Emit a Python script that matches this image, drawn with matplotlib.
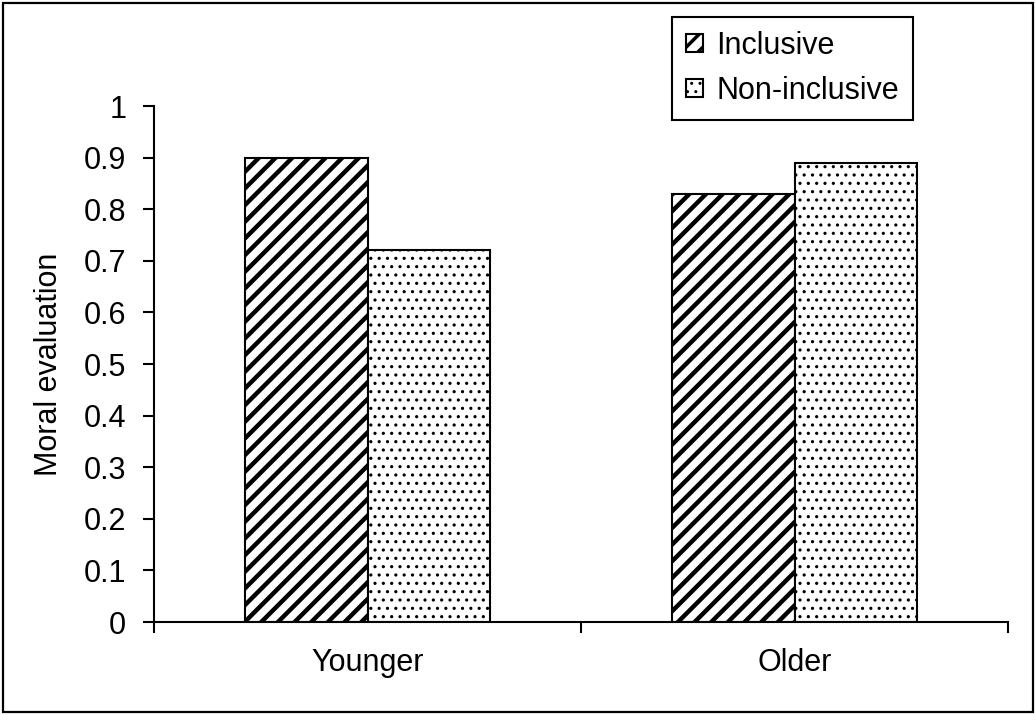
import matplotlib
matplotlib.use("Agg")
import matplotlib.pyplot as plt
from matplotlib.patches import Rectangle
import numpy as np

categories = ["Younger", "Older"]
inclusive = [0.90, 0.83]
non_inclusive = [0.72, 0.89]
series_names = ["Inclusive", "Non-inclusive"]
yticks = [0, 0.1, 0.2, 0.3, 0.4, 0.5, 0.6, 0.7, 0.8, 0.9, 1]
ytick_labels = ["0", "0.1", "0.2", "0.3", "0.4", "0.5", "0.6", "0.7", "0.8", "0.9", "1"]

plt.rcParams["font.family"] = ["Liberation Sans", "DejaVu Sans"]
plt.rcParams["hatch.color"] = "black"
FS = 22

fig = plt.figure(figsize=(10.36, 7.15), dpi=100)
ax = fig.add_axes([154 / 1036, 1 - 622 / 715, (1008 - 154) / 1036, (622 - 106) / 715])

x = np.arange(len(categories)) + 0.5
w = 0.287
with plt.rc_context({"hatch.linewidth": 3.2}):
    b1 = ax.bar(x - w / 2, inclusive, w, facecolor="white", edgecolor="black",
                linewidth=1.5, hatch="//", label=series_names[0])
with plt.rc_context({"hatch.linewidth": 1.1}):
    b2 = ax.bar(x + w / 2, non_inclusive, w, facecolor="white", edgecolor="black",
                linewidth=1.5, hatch="..", label=series_names[1])
for p in b1:
    if hasattr(p, "set_hatch_linewidth"):
        p.set_hatch_linewidth(3.2)
for p in b2:
    if hasattr(p, "set_hatch_linewidth"):
        p.set_hatch_linewidth(1.1)

ax.set_xlim(0, 2)
ax.set_ylim(0, 1)
ax.set_yticks(yticks)
ax.set_yticklabels(ytick_labels)
ax.set_xticks([0, 1, 2])
ax.set_xticklabels([])
ax.set_xticks(x, minor=True)
ax.set_xticklabels(categories, minor=True)
ax.tick_params(axis="x", which="minor", length=0, pad=19, labelsize=FS)
ax.tick_params(axis="x", which="major", length=8, width=1.5, direction="out")
ax.tick_params(axis="y", length=8, width=1.5, direction="out", pad=12, labelsize=FS)

for s in ["top", "right"]:
    ax.spines[s].set_visible(False)
for s in ["left", "bottom"]:
    ax.spines[s].set_linewidth(1.5)

ax.set_ylabel("Moral evaluation", fontsize=FS)
ax.yaxis.set_label_coords((64 - 154) / 854, 0.5)

leg = fig.legend(handles=[b1, b2], labels=series_names, loc="upper left",
                 bbox_to_anchor=(672 / 1036, 1 - 17 / 715), bbox_transform=fig.transFigure,
                 fontsize=FS, fancybox=False, edgecolor="black", framealpha=1,
                 borderaxespad=0, handlelength=0.55, handleheight=0.55,
                 handletextpad=0.45, borderpad=0.45, labelspacing=0.5)
leg.get_frame().set_linewidth(1.5)
for h in leg.legend_handles:
    if hasattr(h, "set_hatch_linewidth"):
        h.set_hatch_linewidth(2.5 if h.get_hatch() == "//" else 1.0)

fig.patches.append(Rectangle((3 / 1036, 3 / 715), 1030 / 1036, 709 / 715,
                             transform=fig.transFigure, fill=False,
                             edgecolor="black", linewidth=1.6))

fig.savefig("out.png", dpi=100)
